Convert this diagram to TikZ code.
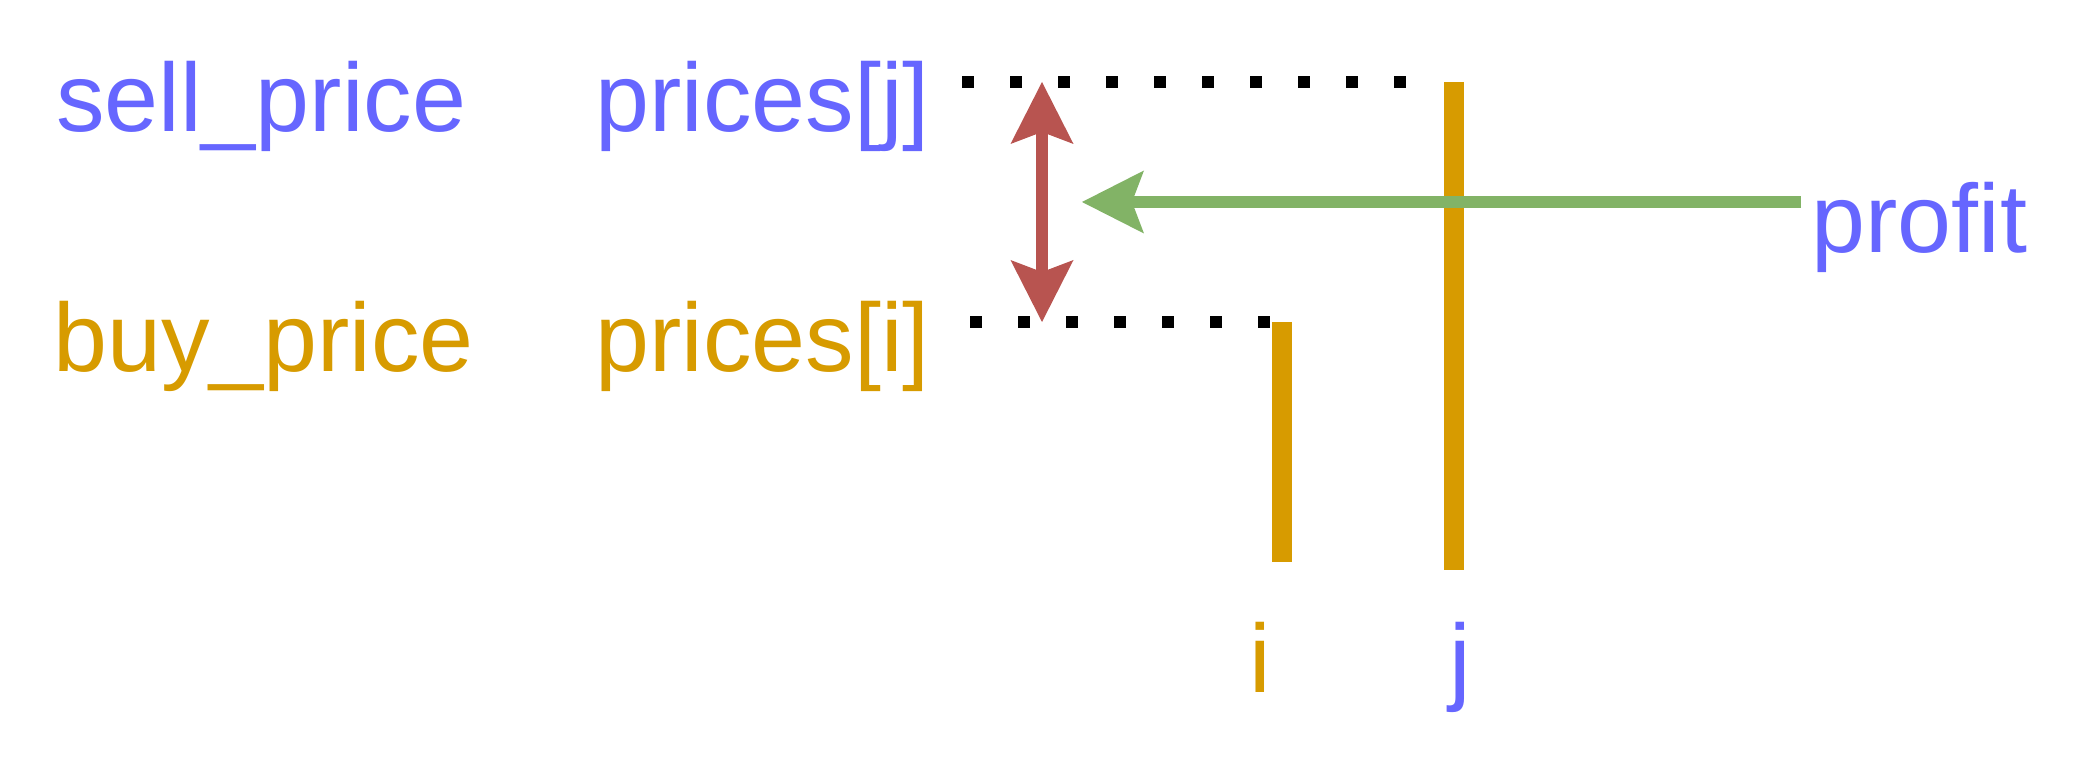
\documentclass[tikz,border=0pt]{standalone}
\usepackage{fontspec}
\setmainfont{Liberation Sans}
\usetikzlibrary{arrows.meta}

\definecolor{textblue}{HTML}{6666FF}
\definecolor{barorange}{HTML}{D79B00}
\definecolor{arrowgreen}{HTML}{82B366}
\definecolor{arrowred}{HTML}{B85450}

\begin{document}
\begin{tikzpicture}[
    x=0.5pt, y=-0.5pt,
    >={Stealth[length=31pt, width=31.5pt, inset=6pt, line width'=0pt]},
    every node/.style={font=\fontsize{48.5}{58}\selectfont},
    word/.style={inner sep=0pt, anchor=base west},
    bar/.style={draw=barorange, line width=10pt},
    dots/.style={draw=black, line width=6pt, dash pattern=on 6pt off 18pt},
    arrow/.style={line width=6pt}
]
\useasboundingbox (0,0) rectangle (2084,764);

% labels
\node[word, text=textblue] (sell) at (56,132) {sell\_price};
\node[word, text=textblue] (pricesj) at (595,132) {prices[j]};
\node[word, text=barorange] (buy) at (53,372) {buy\_price};
\node[word, text=barorange] (pricesi) at (595,372) {prices[i]};
\node[word, text=textblue] (profit) at (1811,253) {profit};
\node[word, text=barorange] (idx) at (1249,692) {i};
\node[word, text=textblue] (jdx) at (1449,692) {j};

% end points
\coordinate (itop) at (1282,322);
\coordinate (ibot) at (1282,562);
\coordinate (jtop) at (1454,82);
\coordinate (jbot) at (1454,570);
\coordinate (sellstart) at (962,82);
\coordinate (sellend) at (1440,82);
\coordinate (buystart) at (970,322);
\coordinate (buyend) at (1272,322);
\coordinate (difftop) at (1042,82);
\coordinate (diffbot) at (1042,322);
\coordinate (gainstart) at (1801,202);
\coordinate (gainend) at (1082,202);

\draw[dots] (sellstart) -- (sellend);
\draw[dots] (buystart) -- (buyend);
\draw[bar] (itop) -- (ibot);
\draw[bar] (jtop) -- (jbot);
\draw[arrow, arrowred, <->] (difftop) -- (diffbot);
\draw[arrow, arrowgreen, ->] (gainstart) -- (gainend);
\end{tikzpicture}
\end{document}
